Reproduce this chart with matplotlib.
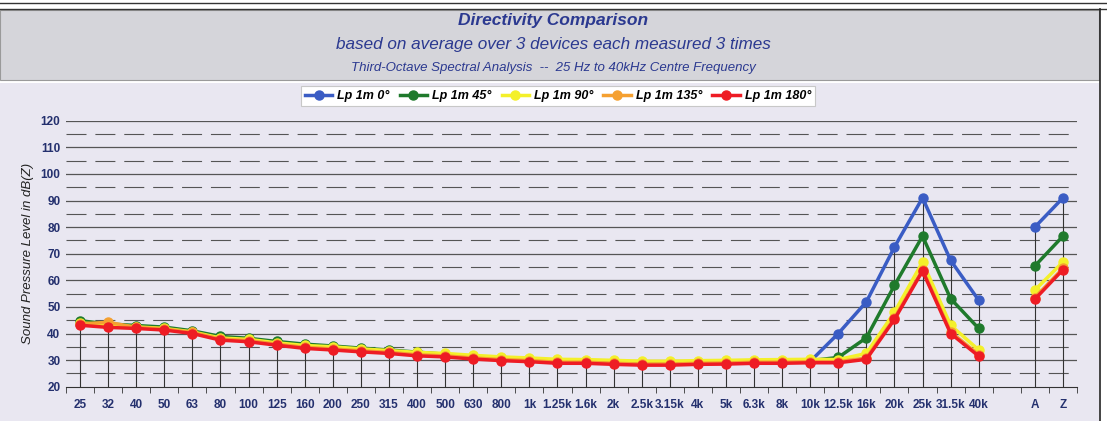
import numpy as np
import matplotlib.pyplot as plt
from matplotlib.patches import Rectangle
from matplotlib.lines import Line2D

# category labels (blank slot between 40k and A)
labels = ['25', '32', '40', '50', '63', '80', '100', '125', '160', '200', '250', '315',
          '400', '500', '630', '800', '1k', '1.25k', '1.6k', '2k', '2.5k', '3.15k', '4k',
          '5k', '6.3k', '8k', '10k', '12.5k', '16k', '20k', '25k', '31.5k', '40k', '', 'A', 'Z']

nan = np.nan
lp_0 = [43.6, 42.8, 42.4, 41.8, 40.5, 38.0, 37.4, 36.1, 34.9, 34.3, 33.6, 33.0,
        32.1, 31.7, 30.9, 30.3, 29.9, 29.3, 29.3, 28.9, 28.6, 28.6, 28.9, 29.0,
        29.3, 29.3, 29.5, 40.0, 51.9, 72.5, 91.0, 67.5, 52.5, nan, 80.0, 91.0]
lp_45 = [44.8, 43.6, 43.0, 42.4, 41.0, 38.9, 38.2, 37.0, 36.0, 35.3, 34.5, 33.8,
         33.0, 32.2, 31.4, 30.8, 30.3, 29.8, 29.7, 29.3, 29.0, 29.0, 29.2, 29.3,
         29.6, 29.7, 29.8, 31.0, 38.4, 58.1, 76.6, 53.1, 41.9, nan, 65.4, 76.6]
lp_90 = [44.0, 43.2, 42.5, 41.9, 40.6, 38.3, 37.8, 36.5, 35.5, 35.0, 34.2, 33.6,
         32.9, 32.5, 31.8, 31.2, 30.8, 30.3, 30.2, 29.9, 29.6, 29.6, 29.8, 29.9,
         30.1, 30.2, 30.3, 30.2, 32.5, 48.0, 66.9, 43.1, 33.8, nan, 56.3, 66.9]
lp_135 = [43.6, 44.2, 42.3, 41.7, 40.4, 37.9, 37.3, 36.0, 34.8, 34.2, 33.5, 32.9,
          32.0, 31.6, 30.8, 30.2, 29.8, 29.2, 29.2, 28.8, 28.5, 28.5, 28.8, 28.9,
          29.2, 29.2, 29.4, 29.4, 30.8, 45.8, 64.0, 40.6, 32.0, nan, 53.5, 64.5]
lp_180 = [43.1, 42.3, 41.9, 41.3, 40.0, 37.5, 36.9, 35.6, 34.4, 33.8, 33.1, 32.5,
          31.6, 31.2, 30.4, 29.8, 29.4, 28.8, 28.8, 28.4, 28.1, 28.1, 28.4, 28.5,
          28.8, 28.8, 29.0, 29.0, 30.3, 45.3, 63.5, 40.0, 31.5, nan, 52.9, 64.0]

series = [('Lp 1m 0°', lp_0, '#3a5cc4'),
          ('Lp 1m 45°', lp_45, '#1f7a2c'),
          ('Lp 1m 90°', lp_90, '#f4f02a'),
          ('Lp 1m 135°', lp_135, '#f5a030'),
          ('Lp 1m 180°', lp_180, '#ee1c24')]

navy = '#24306e'
x = np.arange(len(labels))

fig = plt.figure(figsize=(11.07, 4.21), dpi=100)
fig.patch.set_facecolor('white')

# background panels (behind the axes)
fig.patches.append(Rectangle((0, 1 - 80 / 421), 1099 / 1107, 70 / 421, transform=fig.transFigure,
                             facecolor='#d5d5da', edgecolor='#9a9a9a', lw=0.8, zorder=-2))
fig.patches.append(Rectangle((0, 0), 1099 / 1107, 1 - 83 / 421, transform=fig.transFigure,
                             facecolor='#e9e7f1', edgecolor='none', zorder=-2))
for py in (3, 9):
    fig.add_artist(Line2D([0, 1], [1 - py / 421] * 2, color='#333333', lw=1.0))
fig.add_artist(Line2D([1100 / 1107] * 2, [0, 1 - 9 / 421], color='#222222', lw=1.2))

# titles
fig.text(0.5, 1 - 20 / 421, 'Directivity Comparison', ha='center', va='center',
         fontsize=12.5, fontweight='bold', fontstyle='italic', color='#2b3990',
         family='Liberation Sans')
fig.text(0.5, 1 - 44 / 421, 'based on average over 3 devices each measured 3 times',
         ha='center', va='center', fontsize=12.3, fontstyle='italic', color='#2b3990',
         family='Liberation Sans')
fig.text(0.5, 1 - 68 / 421, 'Third-Octave Spectral Analysis  --  25 Hz to 40kHz Centre Frequency',
         ha='center', va='center', fontsize=9.5, fontstyle='italic', color='#2b3990',
         family='Liberation Sans')

ax = fig.add_axes([66 / 1107, 1 - 386.7 / 421, (1077 - 66) / 1107, (386.7 - 120.7) / 421])
ax.set_facecolor('none')

# gridlines
for v in range(30, 121, 10):
    ax.axhline(v, color='#555555', lw=0.9, zorder=1)
for v in range(25, 120, 10):
    ax.axhline(v, color='#555555', lw=0.8, dashes=(18, 8), zorder=1)

# drop lines from the highest point to the axis
tops = np.nanmax(np.array([s[1] for s in series]), axis=0)
ok = ~np.isnan(tops)
ax.vlines(x[ok], 20, tops[ok], color='#333333', lw=0.8, zorder=1.5)

for name, vals, col in series:
    ax.plot(x, vals, color=col, lw=2.5, marker='o', ms=6.5, label=name, zorder=3)

ax.set_xlim(-0.5, len(labels) - 0.5)
ax.set_ylim(20, 120)
ax.set_yticks(range(20, 121, 10))
ax.set_xticks(x)
ax.set_xticklabels(labels)
ax.set_xticks(np.arange(-0.5, len(labels), 1), minor=True)
ax.tick_params(axis='x', which='major', length=0, pad=9, labelsize=8.5, labelcolor=navy)
ax.tick_params(axis='x', which='minor', length=4, direction='out', color='#333333')
ax.tick_params(axis='y', length=0, pad=4, labelsize=8.5, labelcolor=navy)
for t in ax.get_xticklabels() + ax.get_yticklabels():
    t.set_fontweight('bold')
    t.set_family('Liberation Sans')
for s in ('top', 'right', 'left'):
    ax.spines[s].set_visible(False)
ax.spines['bottom'].set_color('#333333')

ax.set_ylabel('Sound Pressure Level in dB(Z)', fontsize=9.5, fontstyle='italic',
              color='#222222', family='Liberation Sans', labelpad=5)

leg = fig.legend(loc='center', bbox_to_anchor=(558 / 1107, 1 - 96 / 421), ncol=5,
                 frameon=True, fancybox=False, edgecolor='#c8c8c8', facecolor='white',
                 handlelength=2.2, columnspacing=0.8, handletextpad=0.4,
                 borderpad=0.3, framealpha=1,
                 prop={'family': 'Liberation Sans', 'weight': 'bold',
                       'style': 'italic', 'size': 9})
leg.get_frame().set_linewidth(0.8)

fig.savefig('out.png', dpi=100)
